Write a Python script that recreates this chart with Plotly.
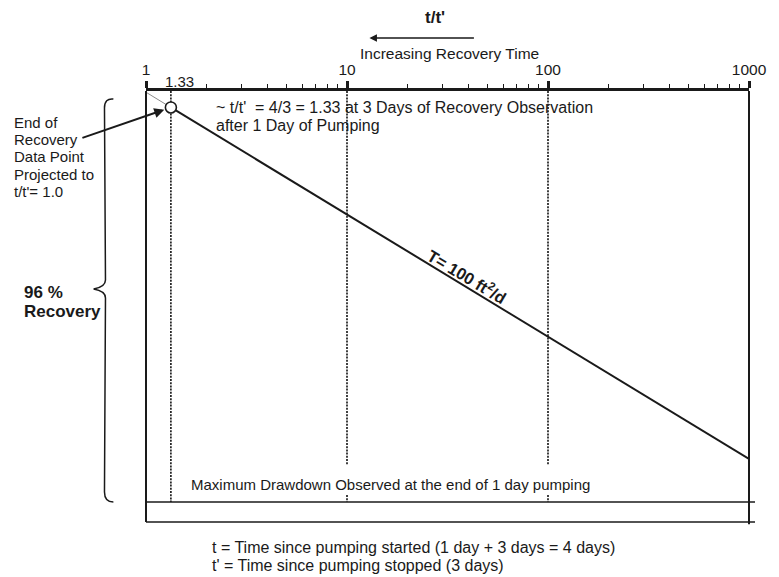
import math
import plotly.graph_objects as go

# ---- data -------------------------------------------------------------
# t/t' ratio and residual drawdown (% of maximum drawdown)
fit_ratio = [1.33, 1000]
fit_residual = [4.0, 89.5]

ext_ratio = [1.0, 1.33]          # projection back to t/t' = 1.0
ext_residual = [0.3, 4.0]

obs_ratio = [1.33]               # end-of-recovery data point
obs_residual = [4.0]

guide_ratio = [1.33, 10, 100]    # dotted reference verticals
max_drawdown = 100.0

major_ticks = [1, 10, 100, 1000]
minor_ticks = [m * d for d in (1, 10, 100) for m in range(2, 10)]

FONT = "Liberation Sans, Arial, Helvetica, sans-serif"
INK = "#1a1a1a"

# ---- figure geometry ---------------------------------------------------
W, H = 779, 577
ML, MR, MT, MB = 146, 23, 91, 55
PW, PH = W - ML - MR, H - MT - MB
Y_MAX = 104.87


def paper(x, y):
    """Pixel position -> paper coordinates."""
    return (x - ML) / PW, (H - MB - y) / PH


fig = go.Figure()

# projection to t/t' = 1
fig.add_trace(go.Scatter(x=ext_ratio, y=ext_residual, mode="lines",
                         line=dict(color="#8c8c8c", width=1), hoverinfo="skip"))

# dotted guides
DOT = dict(color="#111111", width=1.6, dash="2px,1.2px")
fig.add_trace(go.Scatter(x=[guide_ratio[0]] * 2, y=[0, max_drawdown], mode="lines",
                         line=DOT, hoverinfo="skip"))
for g in guide_ratio[1:]:
    fig.add_trace(go.Scatter(x=[g, g, None, g, g], y=[0, 91, None, 98.3, max_drawdown],
                             mode="lines", line=DOT, hoverinfo="skip"))

# straight-line recovery fit
fig.add_trace(go.Scatter(x=fit_ratio, y=fit_residual, mode="lines",
                         line=dict(color=INK, width=2), hoverinfo="skip"))

# observed point
fig.add_trace(go.Scatter(x=obs_ratio, y=obs_residual, mode="markers",
                         marker=dict(symbol="circle", size=11, color="white",
                                     line=dict(color=INK, width=1.6)),
                         hoverinfo="skip"))

# ---- frame -------------------------------------------------------------
shapes = [
    dict(type="line", xref="paper", yref="paper", x0=0, x1=0, y0=0, y1=1,
         line=dict(color=INK, width=2)),
    dict(type="line", xref="paper", yref="paper", x0=1, x1=1, y0=-0.005, y1=1,
         line=dict(color=INK, width=2)),
    dict(type="line", xref="paper", yref="paper", x0=0, x1=1.01, y0=0, y1=0,
         line=dict(color=INK, width=1.5)),
    dict(type="line", xref="paper", yref="y", x0=0, x1=1.01, y0=max_drawdown, y1=max_drawdown,
         line=dict(color=INK, width=1.5)),
]

# curly brace spanning the recovered portion
brace_px = [("M", 113, 99), ("Q", 104, 98), ("", 104, 108), ("L", 105, 280),
            ("Q", 105, 287), ("", 93, 289), ("Q", 105, 291), ("", 105, 298),
            ("L", 104, 492), ("Q", 104, 502), ("", 113, 502)]
path = ""
for cmd, px, py in brace_px:
    xp, yp = paper(px, py)
    path += f"{cmd}{xp:.5f},{yp:.5f} "
shapes.append(dict(type="path", xref="paper", yref="paper", path=path.strip(),
                   line=dict(color=INK, width=1.5)))

# ---- annotations ------------------------------------------------------
ann = []


def text(x, y, s, size=14, bold=False, xanchor="left", angle=0):
    if xanchor == "left":
        x -= 2
    xp, yp = paper(x, y)
    ann.append(dict(xref="paper", yref="paper", x=xp, y=yp, text=f"<b>{s}</b>" if bold else s,
                    showarrow=False, xanchor=xanchor, yanchor="middle", align="left",
                    textangle=angle, font=dict(family=FONT, size=size, color=INK)))


def lines(x, y0, step, rows, **kw):
    for i, row in enumerate(rows):
        text(x, y0 + i * step, row, **kw)


text(438, 18, "t/t'", size=17, bold=True, xanchor="center")
text(453, 53, "Increasing Recovery Time", size=15.5, xanchor="center")
text(180, 82, "1.33", size=15, xanchor="center")
lines(12, 122, 17.4, ["End of", "Recovery", "Data Point", "Projected to", "t/t'= 1.0"], size=15)
lines(217, 107, 18, ["~ t/t'\u00a0\u00a0= 4/3 = 1.33 at 3 Days of Recovery Observation",
                     "after 1 Day of Pumping"], size=16)
text(192, 484, "Maximum Drawdown Observed at the end of 1 day pumping", size=15)
lines(23, 292, 19, ["96 %", "Recovery"], size=17, bold=True)
lines(213, 547, 18.5, ["t = Time since pumping started (1 day + 3 days = 4 days)",
                       "t' = Time since pumping stopped (3 days)"], size=16)

slope_px = (fit_residual[1] - fit_residual[0]) * PH / Y_MAX / (
    (math.log10(fit_ratio[1]) - math.log10(fit_ratio[0])) * PW / 3)
text(471, 276, "T= 100 ft<sup>2</sup>/d", size=16.5, bold=True, xanchor="center",
     angle=math.degrees(math.atan(slope_px)))

# arrow above the axis
hx, hy = paper(372, 38)
ann.append(dict(xref="paper", yref="paper", x=hx, y=hy, ax=106, ay=0, text="",
                showarrow=True, arrowhead=2, arrowsize=1, arrowwidth=1.5, arrowcolor=INK))
# arrow to the data point
ann.append(dict(x=math.log10(obs_ratio[0]), y=obs_residual[0], ax=-90, ay=31, text="",
                showarrow=True, arrowhead=2, arrowsize=1, arrowwidth=2, arrowcolor=INK,
                standoff=7))

fig.update_layout(
    width=W, height=H, margin=dict(l=ML, r=MR, t=MT, b=MB),
    paper_bgcolor="white", plot_bgcolor="white", showlegend=False,
    shapes=shapes, annotations=ann,
    font=dict(family=FONT, color=INK),
    xaxis=dict(type="log", range=[0, 3], side="top", showgrid=False, zeroline=False,
               showline=True, linecolor=INK, linewidth=2.5,
               tickmode="array", tickvals=major_ticks, ticktext=[str(v) for v in major_ticks],
               ticks="outside", ticklen=7, tickwidth=2.5, tickcolor=INK,
               tickfont=dict(family=FONT, size=15.5, color=INK),
               minor=dict(tickvals=minor_ticks, ticks="outside", ticklen=4, tickwidth=1.2,
                          tickcolor=INK, showgrid=False)),
    yaxis=dict(range=[Y_MAX, 0], visible=False, showgrid=False, zeroline=False),
)

fig.write_html("out.html")
